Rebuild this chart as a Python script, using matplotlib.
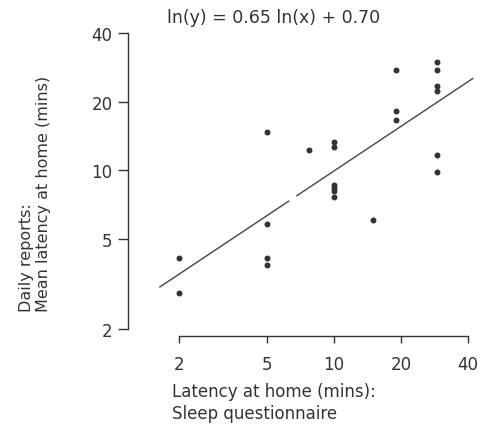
import numpy as np
import matplotlib
matplotlib.use("Agg")
import matplotlib.pyplot as plt
from matplotlib.ticker import FixedLocator, NullLocator, FixedFormatter

# questionnaire latency (x) vs daily-report mean latency (y)
quest_x = [2, 2, 5, 5, 5, 5, 7.7, 10, 10, 10, 10, 10, 10,
           15, 19, 19, 19, 29, 29, 29, 29, 29, 29]
daily_y = [4.1, 2.9, 14.7, 5.8, 4.1, 3.85, 12.3, 13.3, 12.7, 8.6, 8.35, 8.1, 7.6,
           6.05, 27.7, 18.2, 16.6, 30.1, 27.7, 23.5, 22.4, 11.7, 9.8]

# fitted line ln(y) = a ln(x) + b, drawn in two pieces (gap in the original)
fit_a = 0.65
fit_b = 0.80
fit_pieces = [(1.64, 6.25), (6.8, 42.2)]

ticks = [2, 5, 10, 20, 40]
tick_labels = ["2", "5", "10", "20", "40"]

plt.rcParams['font.family'] = ['DejaVu Sans']

fig = plt.figure(figsize=(4.83, 4.27), dpi=100)
ax = fig.add_axes([0.265, 0.211, 0.718, 0.719])

ax.plot(quest_x, daily_y, 'o', color='#333333', markersize=4.3, markeredgewidth=0)

for lo, hi in fit_pieces:
    xs = np.array([lo, hi])
    ys = np.exp(fit_b) * xs ** fit_a
    ax.plot(xs, ys, color='#444444', linewidth=1.0)

ax.set_xscale('log')
ax.set_yscale('log')
ax.set_xlim(1.178, 43.1)
ax.set_ylim(1.87, 41.9)

for a in (ax.xaxis, ax.yaxis):
    a.set_major_locator(FixedLocator(ticks))
    a.set_major_formatter(FixedFormatter(tick_labels))
    a.set_minor_locator(NullLocator())

ax.spines['top'].set_visible(False)
ax.spines['right'].set_visible(False)
ax.spines['left'].set_bounds(2, 40)
ax.spines['bottom'].set_bounds(2, 40)
for s in ('left', 'bottom'):
    ax.spines[s].set_color('#333333')
    ax.spines[s].set_linewidth(1.0)

ax.tick_params(axis='y', direction='out', length=7, width=1, pad=4,
               labelsize=12, colors='#333333')
ax.tick_params(axis='x', direction='out', length=5, width=1, pad=9,
               labelsize=12, colors='#333333')

ax.set_title("ln(y) = 0.65 ln(x) + 0.70", fontsize=12.5, color='#333333',
             x=0.42, y=1.0, pad=5)

fig.text(172 / 483, 1 - 383 / 427, "Latency at home (mins):\nSleep questionnaire",
         ha='left', va='top', fontsize=12, color='#333333', linespacing=1.3)
fig.text(19 / 483, 1 - 312 / 427, "Daily reports:\nMean latency at home (mins)",
         ha='left', va='top', rotation=90, rotation_mode='anchor',
         multialignment='left', fontsize=11.5, color='#333333', linespacing=1.2)

fig.savefig("out.png", dpi=100)
